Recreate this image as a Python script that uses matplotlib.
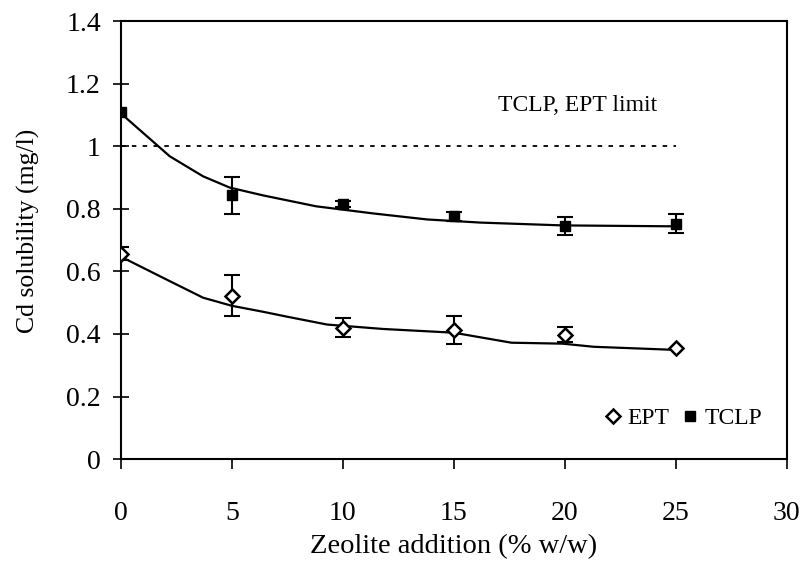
import matplotlib
matplotlib.use("Agg")
import matplotlib.pyplot as plt
from matplotlib.lines import Line2D

plt.rcParams['font.family'] = ['Liberation Serif', 'DejaVu Serif']

# Measured points
zeolite = [0, 5, 10, 15, 20, 25]
tclp = [1.108, 0.843, 0.816, 0.776, 0.745, 0.752]
tclp_err = [0.0, 0.06, 0.01, 0.015, 0.03, 0.03]
ept = [0.657, 0.522, 0.42, 0.413, 0.398, 0.356]
ept_err = [0.02, 0.065, 0.03, 0.045, 0.025, 0.0]

# Fitted trend curves
tclp_fit_x = [0, 2.2, 3.7, 4.9, 6.4, 8.8, 11.4, 13.8, 16.2, 19.9, 25]
tclp_fit_y = [1.105, 0.968, 0.904, 0.868, 0.843, 0.808, 0.785, 0.766, 0.756, 0.747, 0.744]
ept_fit_x = [0, 1.8, 3.7, 5.0, 6.4, 7.5, 9.3, 11.8, 15.0, 17.6, 19.9, 21.3, 25]
ept_fit_y = [0.647, 0.583, 0.516, 0.49, 0.471, 0.455, 0.43, 0.416, 0.404, 0.372, 0.369, 0.359, 0.349]

limit_x = [0, 25]
limit_y = [1.0, 1.0]

fig = plt.figure(figsize=(8.06, 5.71), dpi=100)
ax = fig.add_axes([0.150, 0.196, 0.826, 0.767])

ax.plot(limit_x, limit_y, color='black', linestyle=(0, (2.5, 3.5)), linewidth=1.3)
ax.plot(tclp_fit_x, tclp_fit_y, color='black', linewidth=1.6)
ax.plot(ept_fit_x, ept_fit_y, color='black', linewidth=1.6)


def with_err(xs, ys, es):
    keep = [i for i, e in enumerate(es) if e > 0]
    return [xs[i] for i in keep], [ys[i] for i in keep], [es[i] for i in keep]


tx, ty, te = with_err(zeolite, tclp, tclp_err)
ax.errorbar(tx, ty, yerr=te, fmt='none', ecolor='black', elinewidth=1.5,
            capsize=6, capthick=1.5, zorder=3)
ex, ey, ee = with_err(zeolite, ept, ept_err)
ax.errorbar(ex, ey, yerr=ee, fmt='none', ecolor='black', elinewidth=1.5,
            capsize=6, capthick=1.5, zorder=3)

ax.plot(zeolite, tclp, 's', color='black', markersize=7, zorder=4)
ax.plot(zeolite, ept, 'D', color='black', markerfacecolor='white',
        markeredgewidth=1.8, markersize=7, zorder=4)

ax.text(20.6, 1.13, 'TCLP, EPT limit', fontsize=17, ha='center', va='center')

ax.set_xlim(0, 30)
ax.set_ylim(0, 1.4)
ax.set_xticks([0, 5, 10, 15, 20, 25, 30])
ax.set_yticks([0, 0.2, 0.4, 0.6, 0.8, 1.0, 1.2, 1.4])
ax.set_yticklabels(['0', '0.2', '0.4', '0.6', '0.8', '1', '1.2', '1.4'])
ax.tick_params(axis='y', direction='inout', length=11, width=1.2, labelsize=20, pad=9)
ax.tick_params(axis='x', direction='out', length=7, width=1.2, labelsize=20, pad=23)
for s in ax.spines.values():
    s.set_linewidth(1.5)

ax.set_xlabel('Zeolite addition (% w/w)', fontsize=20.5, labelpad=6)
ax.set_ylabel('Cd solubility (mg/l)', fontsize=18.5)
ax.yaxis.set_label_coords(-0.122, 0.52)

handles = [Line2D([], [], marker='D', linestyle='none', color='black', markerfacecolor='white',
                  markeredgewidth=1.8, markersize=7),
           Line2D([], [], marker='s', linestyle='none', color='black', markersize=7)]
ax.legend(handles, ['EPT', 'TCLP'], ncol=2, frameon=False, fontsize=17,
          loc='lower right', bbox_to_anchor=(0.995, 0.02), handlelength=0.6,
          handletextpad=0.3, columnspacing=0.6)

fig.savefig('out.png', dpi=100)
